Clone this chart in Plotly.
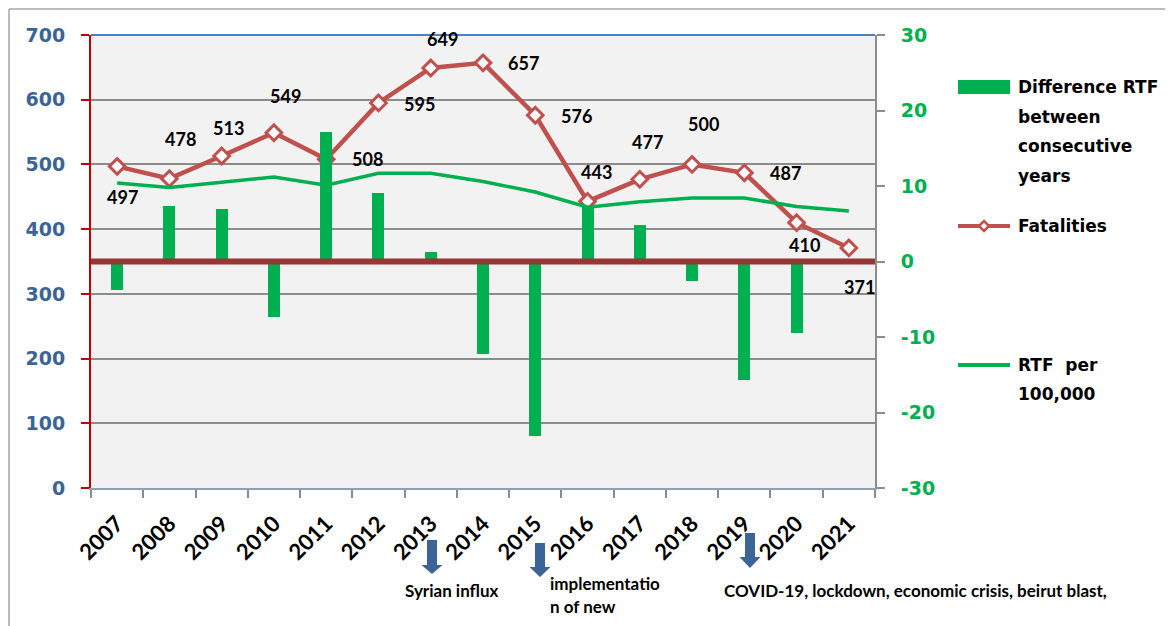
import plotly.graph_objects as go

years = ["2007", "2008", "2009", "2010", "2011", "2012", "2013", "2014",
         "2015", "2016", "2017", "2018", "2019", "2020", "2021"]
fatalities = [497, 478, 513, 549, 508, 595, 649, 657, 576, 443, 477, 500, 487, 410, 371]
rtf_per_100k = [10.4, 9.8, 10.5, 11.2, 10.1, 11.7, 11.7, 10.6, 9.2, 7.2, 7.9, 8.4, 8.4, 7.3, 6.7]
rtf_difference = [-3.8, 7.3, 7.0, -7.4, 17.1, 9.1, 1.2, -12.3, -23.1, 7.3, 4.8, -2.6, -15.7, -9.5, 0]
left_ticks = [0, 100, 200, 300, 400, 500, 600, 700]
right_ticks = [-30, -20, -10, 0, 10, 20, 30]
right_tick_text = ["-30", "-20", "-10", "0", "10", "20", "30"]

# label offsets (pixels) for the fatalities data labels
label_dx = [5, 11, 7, 12, 41, 41, 12, 40, 41, 9, 8, 11, 41, 8, 11]
label_dy = [31, -40, -28, -37, 0, 1, -29, 0, 1, -29, -37, -40, 0, 22, 39]

OFF = 8  # page body margin
W, H = 1173 - OFF, 626 - OFF
L, R, T, B = 91, 875, 35, 488


def px(x):
    return (x - L) / (R - L)


def py(y):
    return (B - y) / (B - T)


GREEN = "#00B050"
RED = "#C0504D"
BLUE_TXT = "#3A6496"
ARROW = "#3C6496"

fig = go.Figure()

fig.add_trace(go.Bar(x=years, y=rtf_difference, yaxis="y2", width=0.23,
                     marker=dict(color=GREEN, line=dict(width=0)),
                     name="Difference RTF between consecutive years"))
fig.add_trace(go.Scatter(x=years, y=rtf_per_100k, yaxis="y2", mode="lines",
                         line=dict(color=GREEN, width=3.5), name="RTF per 100,000"))
fig.add_trace(go.Scatter(x=years, y=fatalities, yaxis="y", mode="lines+markers",
                         line=dict(color=RED, width=4.5),
                         marker=dict(symbol="diamond", size=12, color="white",
                                     line=dict(color=RED, width=3)),
                         name="Fatalities"))

annotations = []
for i, v in enumerate(fatalities):
    annotations.append(dict(x=i, y=v, xref="x", yref="y", text=str(v),
                            showarrow=False, xshift=label_dx[i], yshift=-label_dy[i],
                            font=dict(family="Lato", size=18, color="black", weight="bold")))

# legend (manual)
leg_font = dict(family="DejaVu Sans", size=17, color="black", weight="bold")
legend_lines = [("Difference RTF", 87), ("between", 117), ("consecutive", 146), ("years", 176),
                ("Fatalities", 226), ("RTF  per", 365), ("100,000", 394)]
for txt, yy in legend_lines:
    annotations.append(dict(x=px(1016), y=py(yy), xref="paper", yref="paper", text=txt,
                            showarrow=False, xanchor="left", yanchor="middle", font=leg_font))

# bottom notes
note_font = dict(family="Lato", size=17, color="black", weight="bold")
notes = [("Syrian influx", 403, 590), ("implementatio", 548, 583), ("n of new", 548, 606),
         ("COVID-19, lockdown, economic crisis, beirut blast,", 722, 590)]
for txt, xx, yy in notes:
    annotations.append(dict(x=px(xx), y=py(yy), xref="paper", yref="paper", text=txt,
                            showarrow=False, xanchor="left", yanchor="middle", font=note_font))

shapes = []
shapes.append(dict(type="line", xref="paper", yref="paper", x0=0, x1=1, y0=1, y1=1,
                   line=dict(color="#4F81BD", width=2), layer="above"))
shapes.append(dict(type="line", xref="paper", yref="y2", x0=0, x1=1, y0=0, y1=0,
                   line=dict(color="#953735", width=6), layer="above"))
# outer chart border (left and top)
shapes.append(dict(type="line", xref="paper", yref="paper", x0=px(9), x1=px(9), y0=py(9), y1=py(640),
                   line=dict(color="#A6A6A6", width=1.5)))
shapes.append(dict(type="line", xref="paper", yref="paper", x0=px(9), x1=px(1180), y0=py(9), y1=py(9),
                   line=dict(color="#A6A6A6", width=1.5)))

shapes.append(dict(type="rect", xref="paper", yref="paper", x0=px(958), x1=px(1010), y0=py(80), y1=py(94),
                   fillcolor=GREEN, line=dict(width=0)))
shapes.append(dict(type="line", xref="paper", yref="paper", x0=px(958), x1=px(1010), y0=py(226), y1=py(226),
                   line=dict(color=RED, width=4)))
d = 5
shapes.append(dict(type="path", xref="paper", yref="paper",
                   path=f"M {px(984-d)} {py(226)} L {px(984)} {py(226-d)} L {px(984+d)} {py(226)} L {px(984)} {py(226+d)} Z",
                   fillcolor="white", line=dict(color=RED, width=2.5)))
shapes.append(dict(type="line", xref="paper", yref="paper", x0=px(958), x1=px(1010), y0=py(365), y1=py(365),
                   line=dict(color=GREEN, width=4)))


def arrow(cx, top, neck, tip, sw=5, hw=10.5):
    pts = [(cx - sw, top), (cx + sw, top), (cx + sw, neck), (cx + hw, neck), (cx, tip),
           (cx - hw, neck), (cx - sw, neck)]
    p = "M " + " L ".join(f"{px(a)} {py(b)}" for a, b in pts) + " Z"
    return dict(type="path", xref="paper", yref="paper", path=p, fillcolor=ARROW,
                line=dict(width=0))


shapes.append(arrow(432, 540, 565, 574))
shapes.append(arrow(540, 543, 567, 577))
shapes.append(arrow(750, 533, 557, 568))

fig.update_layout(
    width=W, height=H,
    margin=dict(l=L - OFF, r=1173 - R, t=T - OFF, b=626 - B, autoexpand=False),
    paper_bgcolor="white", plot_bgcolor="#F2F2F2",
    showlegend=False, bargap=0,
    annotations=annotations, shapes=shapes,
    xaxis=dict(type="category", categoryorder="array", categoryarray=years, range=[-0.5, 14.5],
               tickangle=-45, ticks="outside", tickson="boundaries", ticklen=8, tickwidth=2,
               tickcolor="#8C8C8C", showline=True, linecolor="#8EA0B5", linewidth=2,
               showgrid=False, ticklabelstandoff=12,
               tickfont=dict(family="Lato", size=22, color="black", weight="bold")),
    yaxis=dict(range=[0, 700], tickvals=left_ticks, showgrid=True, gridcolor="#8C8C8C", gridwidth=1.5,
               showline=True, linecolor="#C00000", linewidth=2, ticks="outside", ticklen=8,
               tickwidth=2, tickcolor="#C00000", zeroline=False, ticklabelstandoff=12,
               tickfont=dict(family="DejaVu Sans", size=19, color=BLUE_TXT, weight="bold")),
    yaxis2=dict(range=[-30, 30], tickvals=right_ticks, ticktext=right_tick_text,
                overlaying="y", side="right",
                showgrid=False, zeroline=False, showline=True, linecolor="#8C8C8C", linewidth=2,
                ticks="outside", ticklen=8, tickwidth=2, tickcolor="#8C8C8C",
                ticklabelstandoff=12,
                tickfont=dict(family="DejaVu Sans", size=19, color=GREEN, weight="bold")),
)

fig.write_html("out.html")
